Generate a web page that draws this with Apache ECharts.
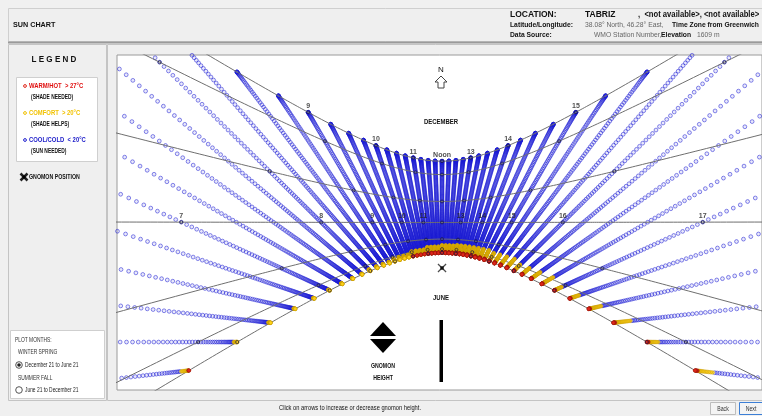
<!DOCTYPE html>
<html>
<head>
<meta charset="utf-8">
<script src="https://cdn.jsdelivr.net/npm/echarts@6/dist/echarts.min.js"></script>
<style>
  html, body { margin: 0; padding: 0; background: #f0f0f0; }
  #chart { width: 762px; height: 416px; }
</style>
</head>
<body>
<div id="chart"></div>
<script>
// ---- Site ----
const stationName = 'TABRIZ';
const latitude = 38.08;      // degrees north
const longitude = 46.28;     // degrees east
const elevation = 1609;      // m

// ---- Shadow-tip lines: solar time of each line, every quarter hour ----
const lineTimes = [4.75, 5, 5.25, 5.5, 5.75, 6, 6.25, 6.5, 6.75, 7, 7.25, 7.5, 7.75,
  8, 8.25, 8.5, 8.75, 9, 9.25, 9.5, 9.75, 10, 10.25, 10.5, 10.75, 11, 11.25, 11.5, 11.75,
  12, 12.25, 12.5, 12.75, 13, 13.25, 13.5, 13.75, 14, 14.25, 14.5, 14.75, 15, 15.25, 15.5, 15.75,
  16, 16.25, 16.5, 16.75, 17, 17.25, 17.5, 17.75, 18, 18.25, 18.5, 18.75, 19, 19.25];

// ---- Plotted period: December 21 (day 355) to June 21 (day 172) ----
const firstDay = 355;
const lastDay = 172;

// ---- Date curves (21st of each month) ----
const dateCurveNames = ['December 21', 'January 21', 'February 21', 'March 21', 'April 21', 'May 21', 'June 21'];
const dateCurveDays = [355, 21, 52, 80, 111, 141, 172];

// ---- Temperature class by solar hour:
//      days before June 21 that are comfortable (> 20°C) and warm/hot (> 27°C) ----
const classHours  = [5,  6,  7,  8,  9, 10, 11, 12, 13, 14, 15, 16, 17, 18, 19];
const comfortDays = [12, 10, 12, 18, 25, 35, 42, 46, 48, 48, 44, 36, 26, 18, 14];
const hotDays     = [3,  0,  0,  0,  0,  3,  8, 12, 15, 15, 13, 10,  8,  7,  6];

// ---- Hour labels ----
const decemberLabelHours = [9, 10, 11, 12, 13, 14, 15];
const equinoxLabelHours = [7, 8, 9, 10, 11, 13, 14, 15, 16, 17];
const markerHours = [5, 6, 7, 8, 9, 10, 11, 12, 13, 14, 15, 16, 17, 18, 19];

// ---- Colours ----
const coolStroke = 'rgba(28,28,212,0.66)';
const coolFill = 'rgba(28,28,212,0.12)';
const comfortColor = '#ffd21a';
const hotColor = '#e0261a';
const curveColor = '#6f6f6f';

// Solar declination (radians) for a day of the year (Spencer)
function declination(n) {
  const g = 2 * Math.PI * (n - 1) / 365;
  return 0.006918 - 0.399912 * Math.cos(g) + 0.070257 * Math.sin(g)
    - 0.006758 * Math.cos(2 * g) + 0.000907 * Math.sin(2 * g)
    - 0.002697 * Math.cos(3 * g) + 0.00148 * Math.sin(3 * g);
}

// Tip of the shadow of a unit gnomon on the ground, x east, y north
function shadowTip(dec, solarHour) {
  const phi = latitude * Math.PI / 180;
  const H = (solarHour - 12) * 15 * Math.PI / 180;
  const east = -Math.cos(dec) * Math.sin(H);
  const north = Math.sin(dec) * Math.cos(phi) - Math.cos(dec) * Math.sin(phi) * Math.cos(H);
  const up = Math.sin(phi) * Math.sin(dec) + Math.cos(phi) * Math.cos(dec) * Math.cos(H);
  if (up < 0.03) return null;
  return [-east / up, -north / up];
}

// Days of the plotted period, in order
const periodDays = [];
for (let n = firstDay; n <= 365; n++) periodDays.push(n);
for (let n = 1; n <= lastDay; n++) periodDays.push(n);

function daysBeforeJune(n) { return n <= lastDay ? lastDay - n : lastDay + 365 - n; }
function inView(p) { return p && Math.abs(p[0]) < 9 && p[1] < 6 && p[1] > -5; }

// Shadow-tip points split by temperature class
const coolPts = [], comfortPts = [], hotPts = [];
lineTimes.forEach(t => {
  const ci = classHours.indexOf(Math.floor(t + 1e-9));
  const cDays = ci >= 0 ? comfortDays[ci] : 0;
  const hDays = ci >= 0 ? hotDays[ci] : 0;
  periodDays.forEach(n => {
    const p = shadowTip(declination(n), t);
    if (!inView(p)) return;
    const k = daysBeforeJune(n);
    if (k < hDays) hotPts.push(p);
    else if (k < cDays) comfortPts.push(p);
    else coolPts.push(p);
  });
});

// Date curves through the day
const curveSeries = dateCurveDays.map((n, i) => {
  const pts = [];
  for (let s = 3; s <= 21; s += 0.02) {
    const p = shadowTip(declination(n), s);
    if (p && Math.abs(p[0]) < 30 && Math.abs(p[1]) < 30) pts.push(p);
  }
  return {
    name: dateCurveNames[i], type: 'line', data: pts, showSymbol: false, symbol: 'none',
    lineStyle: { color: curveColor, width: 1 }, z: 3, silent: true, clip: true
  };
});

// Whole-hour marks on the date curves
const hourMarks = [];
dateCurveDays.forEach(n => markerHours.forEach(h => {
  const p = shadowTip(declination(n), h);
  if (inView(p)) hourMarks.push(p);
}));

function hourText(h) { return h === 12 ? 'Noon' : String(h); }
const decLabels = decemberLabelHours.map(h => {
  const p = shadowTip(declination(dateCurveDays[0]), h);
  return [p[0], p[1], hourText(h)];
});
const eqLabels = equinoxLabelHours.map(h => {
  const p = shadowTip(declination(dateCurveDays[3]), h);
  return [p[0], p[1], hourText(h)];
});

// ---- Page furniture ----
const FONT = '"Liberation Sans", Arial, sans-serif';
const SX = 0.9;
function text(x, y, s, size, opt) {
  opt = opt || {};
  return {
    type: 'text', x: x, y: y, scaleX: opt.sx || SX, z: 20, silent: true,
    style: {
      text: s, fill: opt.color || '#111', align: opt.align || 'left', verticalAlign: 'middle',
      font: (opt.bold === false ? '' : 'bold ') + size + 'px ' + FONT
    }
  };
}
function rect(x, y, w, h, fill, stroke, z) {
  return { type: 'rect', shape: { x: x, y: y, width: w, height: h }, z: z || 0, silent: true,
    style: { fill: fill, stroke: stroke || null, lineWidth: 1 } };
}
function line(x1, y1, x2, y2, color, w, z) {
  return { type: 'line', shape: { x1: x1, y1: y1, x2: x2, y2: y2 }, z: z || 1, silent: true,
    style: { stroke: color, lineWidth: w || 1 } };
}
// Gnomon cross icon: two thin diagonal bars round a centre point
function crossIcon(cx, cy, r) {
  const w = 0.9;
  return [
    { type: 'polygon', z: 20, silent: true, style: { fill: '#222' },
      shape: { points: [[cx - r - w, cy - r + w], [cx - r + w, cy - r - w], [cx + r + w, cy + r - w], [cx + r - w, cy + r + w]] } },
    { type: 'polygon', z: 20, silent: true, style: { fill: '#222' },
      shape: { points: [[cx + r - w, cy - r - w], [cx + r + w, cy - r + w], [cx - r + w, cy + r + w], [cx - r - w, cy + r - w]] } },
    rect(cx - 1.5, cy - 1.5, 3, 3, '#000', null, 21)
  ];
}

const gnomonPath = 'path://M0,1 L1,0 L10,9 L9,10 Z M9,0 L10,1 L1,10 L0,9 Z';

const graphics = [
  // header
  rect(8.5, 8.5, 760, 33, '#efefef', '#cfcfcf', -5),
  line(8, 42.5, 762, 42.5, '#9a9a9a', 2, -4),
  text(13, 25, 'SUN CHART', 8),
  text(510, 15, 'LOCATION:', 8.5, { sx: 1 }),
  text(585, 15, stationName, 8.5, { sx: 1 }),
  text(638, 15, ',  <not available>, <not available>', 8.5),
  text(510, 25, 'Latitude/Longitude:', 7.5),
  text(585, 25, '38.08° North, 46.28° East,', 7.5, { bold: false, color: '#666' }),
  text(672, 25, 'Time Zone from Greenwich', 7.5),
  text(510, 35, 'Data Source:', 7.5),
  text(594, 35, 'WMO Station Number,', 7.5, { bold: false, color: '#666' }),
  text(661, 35, 'Elevation', 7.5),
  text(697, 35, elevation + ' m', 7.5, { bold: false, color: '#666' }),
  // left panel
  rect(8.5, 44.5, 98, 356, '#efefef', '#c4c4c4', -5),
  text(54, 59, 'L E G E N D', 9.5, { align: 'center', sx: 0.85 }),
  rect(16.5, 77.5, 81, 84, '#ffffff', '#cfcfcf', -3),
  { type: 'circle', shape: { cx: 25, cy: 86, r: 1.4 }, z: 20, style: { fill: 'none', stroke: hotColor } },
  text(29, 86, 'WARM/HOT  > 27°C', 7, { color: '#e01010', sx: 0.84 }),
  text(31, 97, '(SHADE NEEDED)', 7, { sx: 0.7 }),
  { type: 'circle', shape: { cx: 25, cy: 113, r: 1.4 }, z: 20, style: { fill: 'none', stroke: '#f0c000' } },
  text(29, 113, 'COMFORT  > 20°C', 7, { color: '#f2c200', sx: 0.84 }),
  text(31, 124, '(SHADE HELPS)', 7, { sx: 0.7 }),
  { type: 'circle', shape: { cx: 25, cy: 140, r: 1.4 }, z: 20, style: { fill: 'none', stroke: '#2020d0' } },
  text(29, 140, 'COOL/COLD  < 20°C', 7, { color: '#1818c8', sx: 0.84 }),
  text(31, 151, '(SUN NEEDED)', 7, { sx: 0.7 }),
  text(29, 177, 'GNOMON POSITION', 7, { sx: 0.75 }),
  ...crossIcon(24, 177, 3.5),
  // plot months
  rect(10.5, 330.5, 94, 68, '#ffffff', '#cfcfcf', -3),
  text(15, 340, 'PLOT MONTHS:', 6.5, { bold: false, sx: 0.75, color: '#333' }),
  text(18, 352, 'WINTER SPRING', 6.5, { bold: false, sx: 0.75, color: '#333' }),
  { type: 'circle', shape: { cx: 19, cy: 365, r: 3.3 }, z: 20, style: { fill: '#fff', stroke: '#555' } },
  { type: 'circle', shape: { cx: 19, cy: 365, r: 1.8 }, z: 21, style: { fill: '#222' } },
  text(25, 365, 'December 21 to June 21', 6.5, { bold: false, sx: 0.75, color: '#222' }),
  text(18, 378, 'SUMMER FALL', 6.5, { bold: false, sx: 0.75, color: '#333' }),
  { type: 'circle', shape: { cx: 19, cy: 390, r: 3.3 }, z: 20, style: { fill: '#fff', stroke: '#555' } },
  text(25, 390, 'June 21 to December 21', 6.5, { bold: false, sx: 0.75, color: '#222' }),
  // chart panel
  rect(107.5, 44.5, 656, 356, '#efefef', '#c4c4c4', -5),
  // north arrow
  text(441, 70, 'N', 8, { bold: false, align: 'center', sx: 1 }),
  { type: 'polygon', z: 20, shape: { points: [[441, 76], [447, 82], [444, 82], [444, 88], [438, 88], [438, 82], [435, 82]] },
    style: { fill: '#fff', stroke: '#444', lineWidth: 1 } },
  text(441, 122, 'DECEMBER', 7, { align: 'center', sx: 0.85 }),
  text(441, 298, 'JUNE', 7, { align: 'center', sx: 0.85 }),
  // gnomon height control
  { type: 'polygon', z: 20, shape: { points: [[370, 336], [383, 322], [396, 336]] }, style: { fill: '#000' } },
  { type: 'polygon', z: 20, shape: { points: [[370, 339], [396, 339], [383, 353]] }, style: { fill: '#000' } },
  text(383, 366, 'GNOMON', 6.5, { align: 'center', sx: 0.8 }),
  text(383, 378, 'HEIGHT', 6.5, { align: 'center', sx: 0.8 }),
  rect(439.5, 320, 3.5, 62, '#000', null, 20),
  // bottom bar
  text(350, 408, 'Click on arrows to increase or decrease gnomon height.', 7, { bold: false, align: 'center', sx: 0.82 }),
  rect(710.5, 402.5, 25, 12, '#f4f4f4', '#bdbdbd', 5),
  text(723, 409, 'Back', 6.5, { bold: false, align: 'center', sx: 0.8, color: '#333' }),
  rect(739.5, 402.5, 24, 12, '#f4f4f4', '#3c7fd6', 5),
  text(751, 409, 'Next', 6.5, { bold: false, align: 'center', sx: 0.8, color: '#333' })
];

const hourLabel = {
  show: true, position: 'top', distance: 2, formatter: p => p.value[2],
  fontSize: 7, fontWeight: 'bold', fontFamily: FONT, color: '#222'
};

const chart = echarts.init(document.getElementById('chart'), null, { renderer: 'canvas' });
chart.setOption({
  animation: false,
  backgroundColor: '#f0f0f0',
  grid: { left: 117, top: 55, width: 645, height: 335, show: true,
          backgroundColor: '#ffffff', borderColor: '#9a9a9a', borderWidth: 1, z: 0 },
  xAxis: { type: 'value', min: -5.931, max: 5.839, show: false },
  yAxis: { type: 'value', min: -2.103, max: 3.672, show: false },
  graphic: { elements: graphics },
  series: [
    { name: 'COOL/COLD < 20°C', type: 'scatter', data: coolPts, symbol: 'circle', symbolSize: 3.8,
      itemStyle: { color: coolFill, borderColor: coolStroke, borderWidth: 1 },
      progressive: 0, large: false, z: 2, silent: true },
    ...curveSeries,
    { name: 'COMFORT > 20°C', type: 'scatter', data: comfortPts, symbol: 'circle', symbolSize: 3.6,
      itemStyle: { color: comfortColor, borderColor: '#c79a00', borderWidth: 0.6 },
      progressive: 0, z: 4, silent: true },
    { name: 'WARM/HOT > 27°C', type: 'scatter', data: hotPts, symbol: 'circle', symbolSize: 3.6,
      itemStyle: { color: hotColor, borderColor: '#9a1a0a', borderWidth: 0.6 },
      progressive: 0, z: 5, silent: true },
    { name: 'hour marks', type: 'scatter', data: hourMarks, symbol: 'circle', symbolSize: 3,
      itemStyle: { color: 'rgba(0,0,0,0)', borderColor: '#1a1a40', borderWidth: 0.9 }, z: 6, silent: true },
    { name: 'December hours', type: 'scatter', data: decLabels, symbol: 'circle', symbolSize: 1,
      itemStyle: { color: 'rgba(0,0,0,0)' }, z: 7, silent: true, label: hourLabel },
    { name: 'Equinox hours', type: 'scatter', data: eqLabels, symbol: 'circle', symbolSize: 1,
      itemStyle: { color: 'rgba(0,0,0,0)' }, z: 7, silent: true, label: hourLabel },
    { name: 'gnomon', type: 'scatter', data: [[0, 0]], symbol: gnomonPath, symbolSize: 9,
      itemStyle: { color: '#222' }, z: 8, silent: true },
    { name: 'gnomon base', type: 'scatter', data: [[0, 0]], symbol: 'rect', symbolSize: 3.5,
      itemStyle: { color: '#000' }, z: 9, silent: true }
  ]
});
</script>
</body>
</html>
